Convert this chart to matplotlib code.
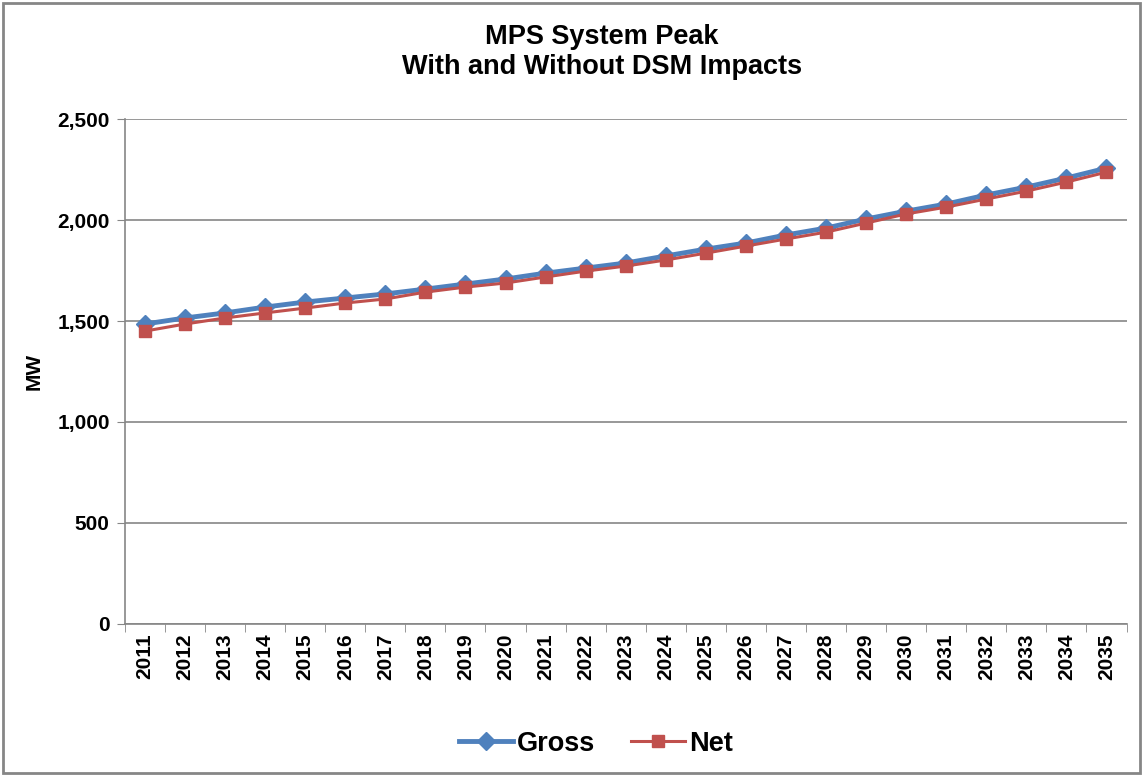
import matplotlib.pyplot as plt
from matplotlib.patches import Rectangle
from matplotlib.ticker import FuncFormatter, FixedLocator

plt.rcParams['font.family'] = ['Liberation Sans', 'DejaVu Sans']
plt.rcParams['font.weight'] = 'bold'

years = [str(y) for y in range(2011, 2036)]
gross = [1485, 1515, 1540, 1569, 1594, 1614, 1634, 1658, 1683, 1708,
         1737, 1762, 1787, 1822, 1856, 1886, 1926, 1960, 2005, 2044,
         2079, 2124, 2163, 2208, 2257]
net = [1450, 1485, 1515, 1540, 1564, 1589, 1609, 1643, 1668, 1688,
       1718, 1747, 1772, 1802, 1836, 1871, 1906, 1940, 1985, 2030,
       2064, 2104, 2143, 2188, 2237]

fig = plt.figure(figsize=(11.46, 7.78), dpi=100)
ax = fig.add_axes([0.109, 0.198, 0.874, 0.649])

x = list(range(len(years)))
ax.plot(x, gross, color='#4F81BD', lw=3.5, marker='D', markersize=9, label='Gross', zorder=3)
ax.plot(x, net, color='#C0504D', lw=2.2, marker='s', markersize=9, label='Net', zorder=4)

ax.set_xlim(-0.5, len(years) - 0.5)
ax.set_ylim(0, 2500)
ax.set_yticks(range(0, 2501, 500))
ax.yaxis.set_major_formatter(FuncFormatter(lambda v, p: f'{int(v):,}'))
ax.grid(axis='y', color='#868686', lw=1.2)
ax.set_axisbelow(True)

ax.set_xticks(x)
ax.set_xticklabels(years, rotation=90, fontsize=15, fontweight='bold')
ax.tick_params(axis='x', which='major', length=0, pad=7)
ax.xaxis.set_minor_locator(FixedLocator([i - 0.5 for i in range(len(years) + 1)]))
ax.tick_params(axis='x', which='minor', length=6, color='#868686', direction='out')
ax.tick_params(axis='y', length=6, color='#868686', labelsize=15, pad=5)
for lab in ax.get_yticklabels():
    lab.set_fontweight('bold')

for s in ['top', 'right']:
    ax.spines[s].set_visible(False)
ax.spines['left'].set_color('#868686')
ax.spines['bottom'].set_color('#868686')
ax.spines['left'].set_linewidth(1.2)
ax.spines['bottom'].set_linewidth(1.2)

ax.set_ylabel('MW', fontsize=15, fontweight='bold', labelpad=10)
fig.text(0.525, 0.933, 'MPS System Peak\nWith and Without DSM Impacts', ha='center', va='center',
         fontsize=19.5, fontweight='bold', linespacing=1.2)

fig.legend(loc='center', bbox_to_anchor=(0.52, 0.044), ncol=2, frameon=False,
           prop={'size': 19.5, 'weight': 'bold'}, handlelength=2.0, columnspacing=1.3,
           handletextpad=0.15)

fig.patches.append(Rectangle((0.003, 0.006), 0.992, 0.99, transform=fig.transFigure,
                             fill=False, edgecolor='#868686', lw=2))

fig.savefig('out.png', dpi=100)
